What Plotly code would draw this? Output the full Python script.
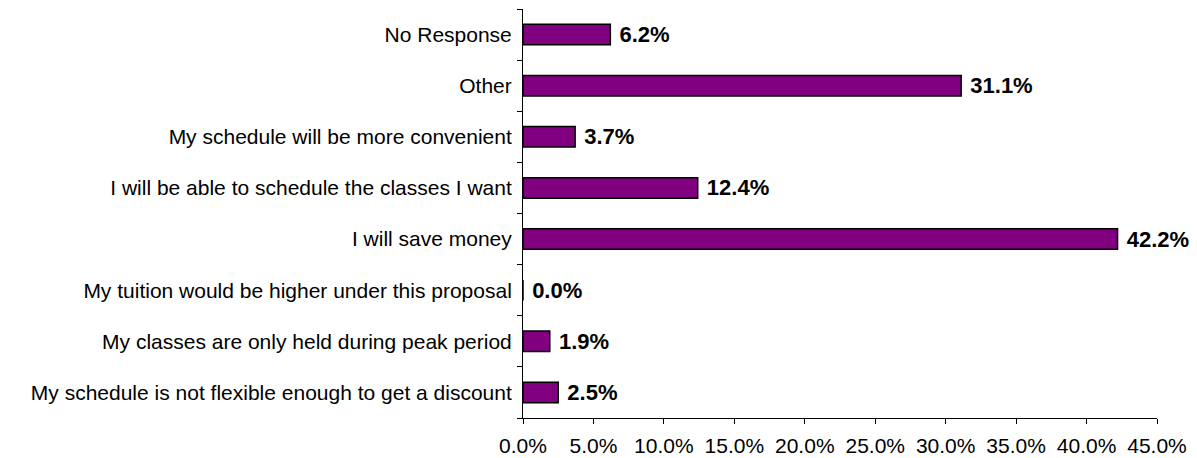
import plotly.graph_objects as go

categories = [
    "My schedule is not flexible enough to get a discount",
    "My classes are only held during peak period",
    "My tuition would be higher under this proposal",
    "I will save money",
    "I will be able to schedule the classes I want",
    "My schedule will be more convenient",
    "Other",
    "No Response",
]
values = [2.5, 1.9, 0.0, 42.2, 12.4, 3.7, 31.1, 6.2]
x_ticks = [0, 5, 10, 15, 20, 25, 30, 35, 40, 45]
x_tick_labels = [f"{v:.1f}%" for v in x_ticks]

FONT = "Liberation Sans, Arial"

fig = go.Figure(
    go.Bar(
        y=categories,
        x=values,
        orientation="h",
        marker=dict(color="#800080", line=dict(color="black", width=1.5)),
        text=[f"\u00a0<b>{v:.1f}%</b>" for v in values],
        textposition="outside",
        constraintext="none",
        textfont=dict(family=FONT, size=22, color="black"),
        cliponaxis=False,
    )
)

# the page body keeps its default 8px margin, so the figure is sized to fit the window
fig.update_layout(
    width=1189,
    height=450,
    margin=dict(l=515, r=40, t=1, b=40, autoexpand=False),
    paper_bgcolor="white",
    plot_bgcolor="white",
    showlegend=False,
    bargap=0.6,
    font=dict(family=FONT, size=21, color="black"),
)
fig.update_xaxes(
    range=[0, 45],
    tickvals=x_ticks,
    ticktext=x_tick_labels,
    showgrid=False,
    zeroline=False,
    showline=True,
    linecolor="black",
    linewidth=1,
    ticks="outside",
    ticklen=5,
    tickcolor="black",
    tickfont=dict(size=21),
    ticklabelstandoff=4,
    automargin=False,
)
fig.update_yaxes(
    categoryorder="array",
    categoryarray=categories,
    showgrid=False,
    zeroline=False,
    showline=True,
    linecolor="black",
    linewidth=1,
    ticks="outside",
    tickson="boundaries",
    ticklen=5,
    tickcolor="black",
    tickfont=dict(size=21),
    ticklabelstandoff=6,
    automargin=False,
)

fig.write_html("out.html")
